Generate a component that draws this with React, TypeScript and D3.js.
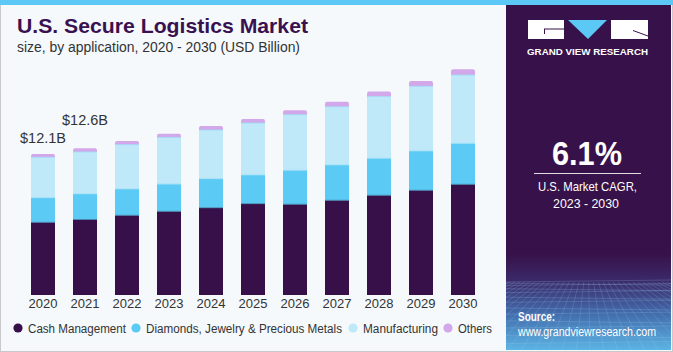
import React from "react";
import * as d3 from "d3";

const years = ["2020", "2021", "2022", "2023", "2024", "2025", "2026", "2027", "2028", "2029", "2030"];
const cashManagement = [6.24, 6.48, 6.84, 7.18, 7.49, 7.84, 7.79, 8.13, 8.56, 8.99, 9.5];
const diamondsJewelry = [2.11, 2.2, 2.26, 2.34, 2.49, 2.46, 2.92, 3.03, 3.18, 3.37, 3.52];
const manufacturing = [3.47, 3.6, 3.8, 4.01, 4.18, 4.46, 4.77, 5.0, 5.29, 5.55, 5.86];
const others = [0.28, 0.32, 0.32, 0.31, 0.34, 0.34, 0.38, 0.43, 0.43, 0.45, 0.49];
const seriesNames = ["Cash Management", "Diamonds, Jewelry & Precious Metals", "Manufacturing", "Others"];
const seriesColors = ["#37104a", "#5bcaf5", "#bfe9f9", "#d3a8ea"];
const annotations = [
  { year: "2020", text: "$12.1B", lift: 11 },
  { year: "2021", text: "$12.6B", lift: 23 },
];

const W = 673;
const H = 352;
const FONT = "'Liberation Sans', Arial, sans-serif";

export default function App() {
  const rows = years.map((y, i) => ({
    year: y,
    s0: cashManagement[i],
    s1: diamondsJewelry[i],
    s2: manufacturing[i],
    s3: others[i],
  }));
  const stack = d3.stack<any>().keys(["s0", "s1", "s2", "s3"]);
  const layers = stack(rows);

  const x = d3.scaleBand<string>().domain(years).range([22, 484]).paddingInner(0.4286).paddingOuter(0.2143);
  const y = d3.scaleLinear().domain([0, 14]).range([295, 295 - 14 * 11.65]);

  const legendX = [18, 136, 353, 448];
  const legendW = [98, 196, 75, 34];

  const gridLines: JSX.Element[] = [];
  const px0 = 506, px1 = 671;
  for (let k = 0; k < 14; k++) {
    const yy = 282 + Math.pow(k / 13, 1.6) * 70;
    gridLines.push(<line key={"h" + k} x1={px0} x2={px1} y1={yy} y2={yy + (k % 2 ? 2 : -2)} stroke="#9fd0f0" strokeOpacity={0.35} strokeWidth={0.6} />);
  }
  for (let k = -10; k < 24; k++) {
    const xb = px0 + k * 14;
    const xt = 588 + (xb - 588) * 0.35;
    gridLines.push(<line key={"v" + k} x1={xt} y1={282} x2={xb} y2={352} stroke="#9fd0f0" strokeOpacity={0.3} strokeWidth={0.6} />);
  }

  return (
    <svg width={W} height={H} style={{ position: "fixed", left: 0, top: 0, display: "block" }} fontFamily={FONT}>
      <defs>
        <linearGradient id="panelGrad" x1="0" y1="0" x2="0" y2="1">
          <stop offset="0" stopColor="#371149" />
          <stop offset="0.72" stopColor="#371149" />
          <stop offset="0.8" stopColor="#3b2a6a" />
          <stop offset="0.9" stopColor="#4470b0" />
          <stop offset="1" stopColor="#5cb4e4" />
        </linearGradient>
        <clipPath id="panelClip">
          <rect x={506} y={5} width={165} height={345} />
        </clipPath>
      </defs>
      <rect x={0} y={0} width={W} height={H} fill="#f5f9fc" />
      <rect x={0.5} y={0.5} width={W - 1} height={H - 1} fill="none" stroke="#c9c9c9" />
      <rect x={0} y={0} width={W} height={5} fill="#5bc8f5" />

      <text x={17} y={33} fontSize={21} fontWeight="bold" fill="#3a1150" textLength={291} lengthAdjust="spacingAndGlyphs">U.S. Secure Logistics Market</text>
      <text x={17} y={52} fontSize={14} fill="#333" textLength={283} lengthAdjust="spacingAndGlyphs">size, by application, 2020 - 2030 (USD Billion)</text>

      {layers.map((layer, li) => (
        <g key={li} fill={seriesColors[li]}>
          {layer.map((d, i) => {
            const top = y(d[1]);
            const h = y(d[0]) - y(d[1]);
            const bx = x(years[i])!;
            if (li === 3) {
              const r = 2;
              const bw = x.bandwidth();
              const path = `M${bx},${top + h} L${bx},${top + r} Q${bx},${top} ${bx + r},${top} L${bx + bw - r},${top} Q${bx + bw},${top} ${bx + bw},${top + r} L${bx + bw},${top + h} Z`;
              return <path key={i} d={path} />;
            }
            return <rect key={i} x={bx} y={top} width={x.bandwidth()} height={h} />;
          })}
        </g>
      ))}
      {layers.slice(0, 3).map((layer, li) => (
        <g key={"sep" + li}>
          {layer.map((d, i) => (
            <line key={i} x1={x(years[i])!} x2={x(years[i])! + x.bandwidth()} y1={y(d[1])} y2={y(d[1])} stroke={li === 0 ? "#3f7fa8" : "#9bdcf5"} strokeWidth={0.8} />
          ))}
        </g>
      ))}

      {annotations.map((a) => {
        const i = years.indexOf(a.year);
        const total = layers[3][i][1];
        return (
          <text key={a.year} x={x(a.year)! + x.bandwidth() / 2} y={y(total) - a.lift} fontSize={15} fill="#333" textAnchor="middle" textLength={46} lengthAdjust="spacingAndGlyphs">{a.text}</text>
        );
      })}

      {years.map((yr) => (
        <text key={yr} x={x(yr)! + x.bandwidth() / 2} y={308} fontSize={13} fill="#333" textAnchor="middle">{yr}</text>
      ))}

      {seriesNames.map((n, i) => (
        <g key={n}>
          <circle cx={legendX[i]} cy={328} r={4.6} fill={seriesColors[i]} />
          <text x={legendX[i] + 10} y={332.5} fontSize={12.5} fill="#333" textLength={legendW[i]} lengthAdjust="spacingAndGlyphs">{n}</text>
        </g>
      ))}

      <rect x={506} y={5} width={165} height={345} fill="url(#panelGrad)" />
      <g clipPath="url(#panelClip)">{gridLines}</g>

      <rect x={528} y={20} width={36} height={19} fill="#ffffff" />
      <path d="M544,29 L564,29 M544.5,29 L544.5,34" stroke="#371149" strokeWidth={1} fill="none" />
      <path d="M568,20 L607,20 L588,39 Z" fill="#5bc8f5" />
      <rect x={611} y={20} width={37} height={19} fill="#ffffff" />
      <path d="M633,30.5 L648,36" stroke="#371149" strokeWidth={1} fill="none" />
      <text x={527} y={54.5} fontSize={9.6} fontWeight="bold" fill="#ffffff" textLength={121} lengthAdjust="spacingAndGlyphs">GRAND VIEW RESEARCH</text>

      <text x={552} y={165} fontSize={33} fontWeight="bold" fill="#ffffff" textLength={70} lengthAdjust="spacingAndGlyphs">6.1%</text>
      <line x1={534} x2={641} y1={173.5} y2={173.5} stroke="#ffffff" strokeWidth={1} strokeOpacity={0.85} />
      <text x={538} y={191} fontSize={13} fill="#ffffff" textLength={99} lengthAdjust="spacingAndGlyphs">U.S. Market CAGR,</text>
      <text x={553} y={208} fontSize={13} fill="#ffffff" textLength={66} lengthAdjust="spacingAndGlyphs">2023 - 2030</text>

      <text x={518} y={321} fontSize={12.5} fontWeight="bold" fill="#ffffff" textLength={37} lengthAdjust="spacingAndGlyphs">Source:</text>
      <text x={518} y={336} fontSize={12.5} fill="#ffffff" textLength={138} lengthAdjust="spacingAndGlyphs">www.grandviewresearch.com</text>
    </svg>
  );
}
